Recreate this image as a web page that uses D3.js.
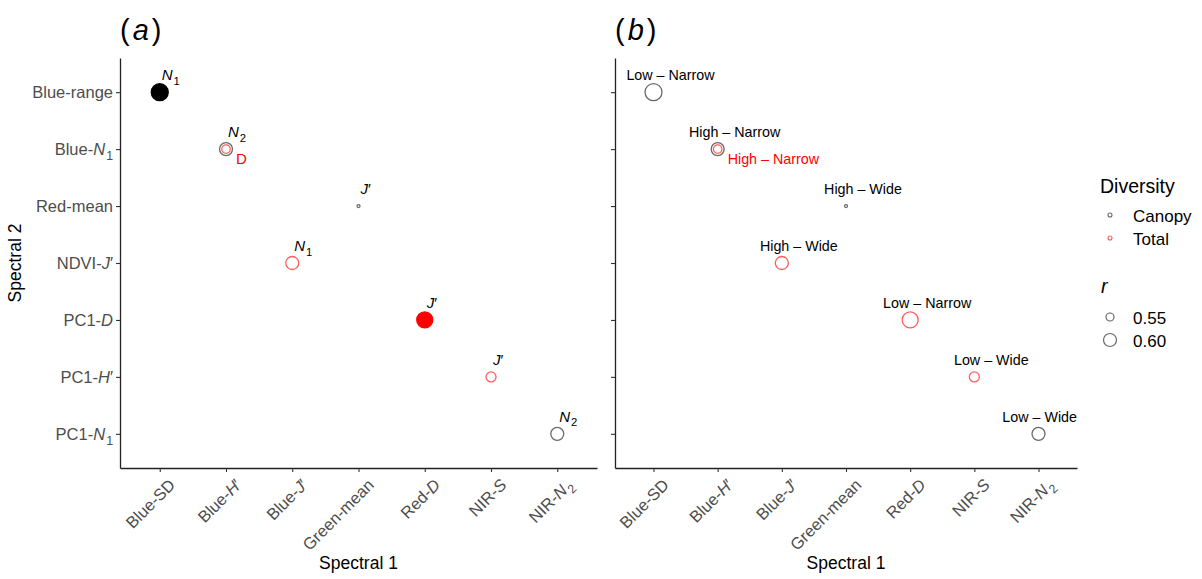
<!DOCTYPE html>
<html>
<head>
<meta charset="utf-8">
<script src="https://cdn.jsdelivr.net/npm/d3@7"></script>
<style>
  body { margin: 0; background: #fff; }
  svg { font-family: "Liberation Sans", Arial, sans-serif; }
</style>
</head>
<body>
<div id="chart"></div>
<script>
// x categories (Spectral 1) and y categories (Spectral 2); *x* = italic, _1 = subscript
const spectral1 = ["Blue-SD", "Blue-*H*′", "Blue-*J*′", "Green-mean", "Red-*D*", "NIR-*S*", "NIR-*N*_2"];
const spectral2 = ["Blue-range", "Blue-*N*_1", "Red-mean", "NDVI-*J*′", "PC1-*D*", "PC1-*H*′", "PC1-*N*_1"];

// one entry per point
const pointX     = ["Blue-SD", "Blue-*H*′", "Blue-*H*′", "Green-mean", "Blue-*J*′", "Red-*D*", "NIR-*S*", "NIR-*N*_2"];
const pointY     = ["Blue-range", "Blue-*N*_1", "Blue-*N*_1", "Red-mean", "NDVI-*J*′", "PC1-*D*", "PC1-*H*′", "PC1-*N*_1"];
const diversity  = ["Canopy", "Canopy", "Total", "Canopy", "Total", "Total", "Total", "Canopy"];
const rValues    = [0.64, 0.60, 0.555, 0.50, 0.60, 0.63, 0.57, 0.60];
const filledA    = [true, false, false, false, false, true, false, false];
const labelsA    = ["*N*_1", "*N*_2", "D", "*J*′", "*N*_1", "*J*′", "*J*′", "*N*_2"];
const labelsB    = ["Low – Narrow", "High – Narrow", "High – Narrow", "High – Wide", "High – Wide",
                    "Low – Narrow", "Low – Wide", "Low – Wide"];

const legendDiversity = ["Canopy", "Total"];
const legendR = [0.55, 0.60];

const width = 1202, height = 579;
const plotTop = 58, plotBottom = 468;
const tickFont = 16.5;
const panels = [
  { id: "a", left: 120, right: 597, labels: labelsA, filled: filledA, yLabels: true, labelFont: 15 },
  { id: "b", left: 615, right: 1077, labels: labelsB, filled: pointX.map(() => false), yLabels: false, labelFont: 14.3 }
];

const svg = d3.select("#chart").append("svg")
  .attr("width", width).attr("height", height);

const strokeColor = d3.scaleOrdinal().domain(legendDiversity).range(["#6a6a6a", "#ff5c5c"]);
const fillColor = d3.scaleOrdinal().domain(legendDiversity).range(["#000000", "#ff0000"]);
const textColor = d3.scaleOrdinal().domain(legendDiversity).range(["#000000", "#ff0000"]);
const radius = d3.scaleLinear().domain([0.50, 0.65]).range([1.5, 9]);

// write simple markup into a text element
function richText(sel, str, size) {
  sel.text(null).attr("font-size", size);
  const parts = str.split(/(\*[^*]+\*|_\w)/).filter(s => s.length);
  let shifted = false;
  parts.forEach(p => {
    if (p.startsWith("*")) {
      sel.append("tspan").attr("font-style", "italic").attr("dy", shifted ? -size * 0.3 : null).text(p.slice(1, -1));
      shifted = false;
    } else if (p.startsWith("_")) {
      sel.append("tspan").attr("font-size", size * 0.75).attr("dy", size * 0.3).attr("dx", 1).text(p.slice(1));
      shifted = true;
    } else {
      sel.append("tspan").attr("dy", shifted ? -size * 0.3 : null).text(p);
      shifted = false;
    }
  });
}

const y = d3.scalePoint().domain(spectral2).range([plotTop, plotBottom]).padding(0.6);

panels.forEach(p => {
  const x = d3.scalePoint().domain(spectral1).range([p.left, p.right]).padding(0.6);
  const g = svg.append("g");

  // axes
  const yAxis = g.append("g")
    .attr("transform", `translate(${p.left},0)`)
    .call(d3.axisLeft(y).tickSize(4).tickSizeOuter(0));
  yAxis.select(".domain").attr("stroke", "#222").attr("stroke-width", 1.3);
  yAxis.selectAll(".tick line").attr("stroke", "#333").attr("stroke-width", 1.1);
  yAxis.selectAll(".tick text")
    .attr("fill", "#4d4d4d")
    .attr("font-family", "Liberation Sans, Arial, sans-serif")
    .each(function (d) {
      if (p.yLabels) richText(d3.select(this), d, tickFont);
      else d3.select(this).remove();
    });

  const xAxis = g.append("g")
    .attr("transform", `translate(0,${plotBottom})`)
    .call(d3.axisBottom(x).tickSize(4).tickSizeOuter(0));
  xAxis.select(".domain").attr("stroke", "#222").attr("stroke-width", 1.3);
  xAxis.selectAll(".tick line").attr("stroke", "#333").attr("stroke-width", 1.1);
  xAxis.selectAll(".tick text")
    .attr("fill", "#4d4d4d")
    .attr("font-family", "Liberation Sans, Arial, sans-serif")
    .attr("text-anchor", "end")
    .attr("y", 0).attr("dy", 0)
    .attr("transform", "translate(16,18) rotate(-45)")
    .each(function (d) { richText(d3.select(this), d, tickFont); });

  // axis titles
  g.append("text")
    .attr("x", (p.left + p.right) / 2).attr("y", 569)
    .attr("text-anchor", "middle").attr("font-size", 17.5).attr("fill", "#000")
    .text("Spectral 1");
  if (p.yLabels) {
    g.append("text")
      .attr("transform", `translate(21,${(plotTop + plotBottom) / 2}) rotate(-90)`)
      .attr("text-anchor", "middle").attr("font-size", 17.5).attr("fill", "#000")
      .text("Spectral 2");
  }

  // panel tag
  const tag = g.append("text").attr("x", p.left).attr("y", 40).attr("font-size", 29).attr("fill", "#000");
  tag.append("tspan").text("(");
  tag.append("tspan").attr("font-style", "italic").attr("dx", 3).text(p.id);
  tag.append("tspan").attr("dx", 3).text(")");

  // points
  const idx = d3.range(pointX.length);
  g.append("g").selectAll("circle")
    .data(idx)
    .join("circle")
    .attr("cx", i => x(pointX[i]))
    .attr("cy", i => y(pointY[i]))
    .attr("r", i => radius(rValues[i]))
    .attr("fill", i => p.filled[i] ? fillColor(diversity[i]) : "none")
    .attr("stroke", i => p.filled[i] ? fillColor(diversity[i]) : strokeColor(diversity[i]))
    .attr("stroke-width", 1.3);

  // labels: overlapping point gets its label below-right in its own colour
  idx.forEach(i => {
    const cx = x(pointX[i]), cy = y(pointY[i]);
    const stacked = idx.some(j => j < i && pointX[j] === pointX[i] && pointY[j] === pointY[i]);
    const t = g.append("text");
    if (stacked) {
      t.attr("x", cx + 10).attr("y", cy + 15).attr("fill", textColor(diversity[i]));
    } else if (p.id === "a") {
      t.attr("x", cx + 2).attr("y", cy - 12).attr("fill", "#000");
    } else {
      t.attr("x", cx + 17).attr("y", cy - 12).attr("fill", "#000").attr("text-anchor", "middle");
    }
    richText(t, p.labels[i], p.labelFont);
    if (!stacked && p.id === "b") {
      const bb = t.node().getBBox();
      if (bb.x + bb.width > p.right) t.attr("x", p.right - bb.width / 2);
    }
  });
});

// legend
const lg = svg.append("g").attr("transform", "translate(1100,0)");
lg.append("text").attr("x", 0).attr("y", 193).attr("font-size", 19.5).text("Diversity");
legendDiversity.forEach((d, i) => {
  lg.append("circle").attr("cx", 10).attr("cy", 215 + i * 23).attr("r", 2)
    .attr("fill", "none").attr("stroke", strokeColor(d)).attr("stroke-width", 1.1);
  lg.append("text").attr("x", 33).attr("y", 216 + i * 23).attr("dy", "0.35em")
    .attr("font-size", 17).text(d);
});
lg.append("text").attr("x", 1).attr("y", 293).attr("font-size", 19.5).attr("font-style", "italic").text("r");
legendR.forEach((d, i) => {
  lg.append("circle").attr("cx", 10).attr("cy", 317 + i * 23).attr("r", radius(d))
    .attr("fill", "none").attr("stroke", "#6a6a6a").attr("stroke-width", 1.2);
  lg.append("text").attr("x", 33).attr("y", 318 + i * 23).attr("dy", "0.35em")
    .attr("font-size", 17).text(d.toFixed(2));
});
</script>
</body>
</html>
